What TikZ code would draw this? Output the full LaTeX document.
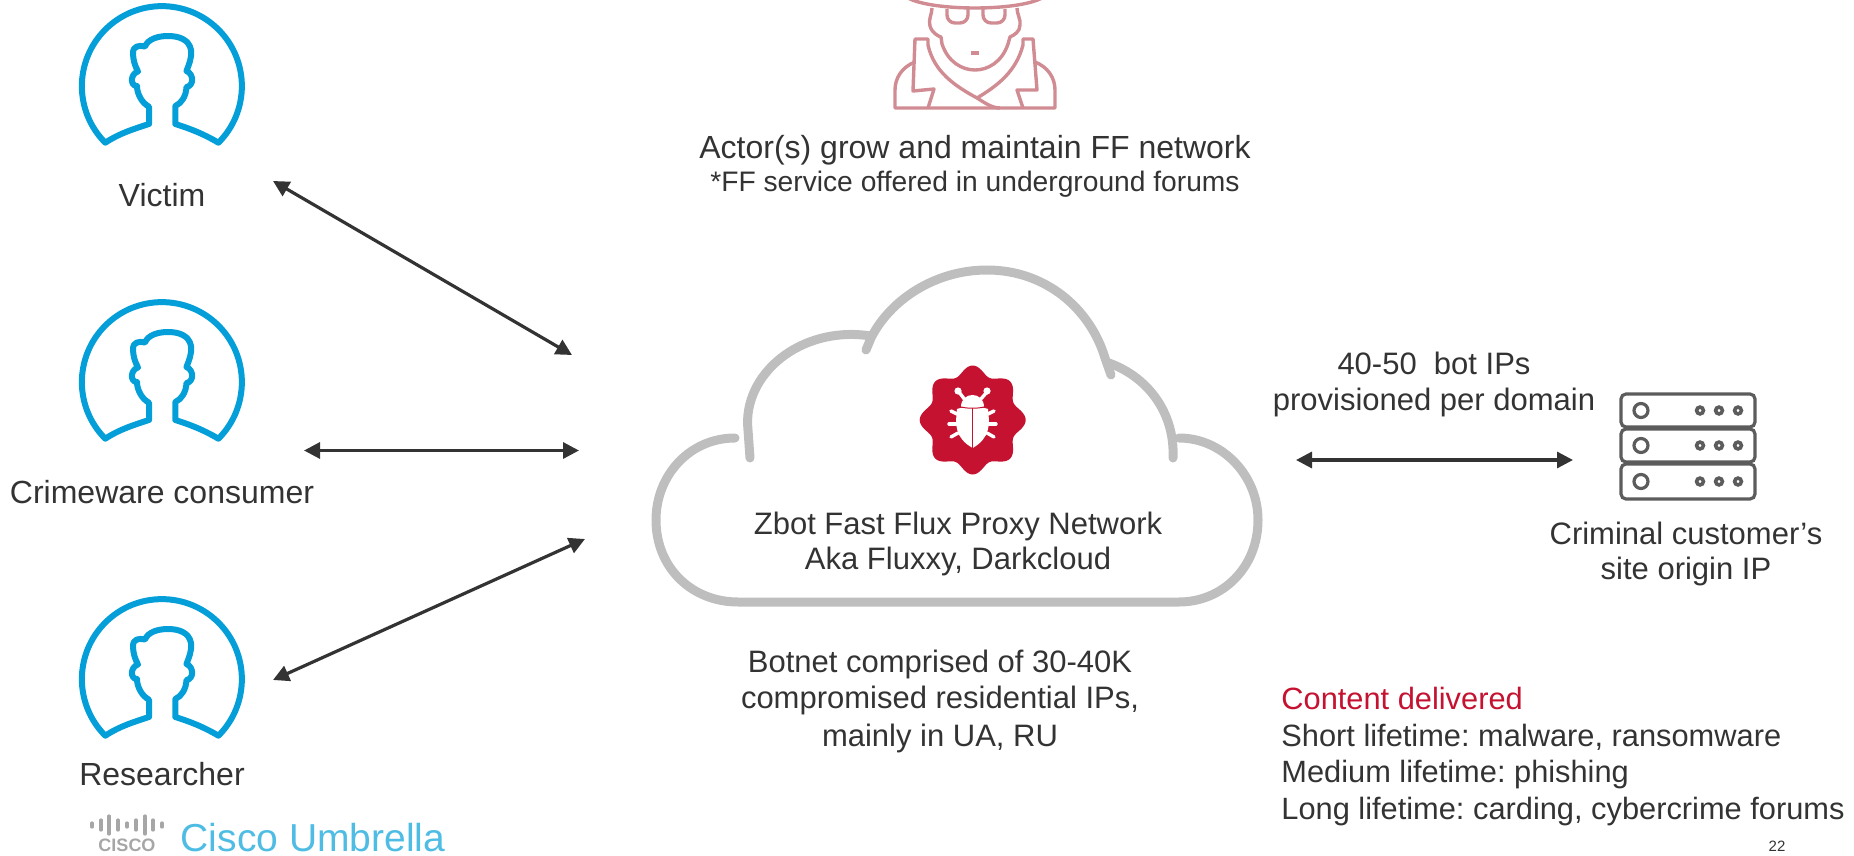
\documentclass[tikz,border=0pt]{standalone}
\usepackage{fontspec}
\setmainfont{Liberation Sans}
\frenchspacing
\usetikzlibrary{arrows.meta}
\definecolor{textgrey}{HTML}{333333}
\definecolor{personblue}{HTML}{049FD9}
\definecolor{cloudgrey}{HTML}{BEBEBE}
\definecolor{bugred}{HTML}{C41230}
\definecolor{actorpink}{HTML}{D08C92}
\definecolor{servergrey}{HTML}{5C5C5C}
\tikzset{
	label/.style={text=textgrey, font=\fontsize{15.5}{18}\selectfont, inner sep=0pt},
	big label/.style={label, font=\fontsize{16}{18}\selectfont},
	small label/.style={label, font=\fontsize{14.1}{16}\selectfont},
	content label/.style={label, anchor=west, font=\fontsize{15.4}{18}\selectfont},
	link/.style={{Triangle[length=8pt,width=8pt]}-{Triangle[length=8pt,width=8pt]}, line width=1.6pt, draw=textgrey},
	person line/.style={line width=3pt, draw=personblue, line join=round, line cap=round},
	cloud line/.style={line width=4.5pt, draw=cloudgrey, line cap=round},
	actor line/.style={line width=1.7pt, draw=actorpink, line join=round},
	server line/.style={line width=1.6pt, draw=servergrey},
	server dot/.style={line width=1.8pt, draw=servergrey},
	bug leg/.style={line width=1.7pt, draw=white, line cap=round},
	logo bar/.style={line width=1.6pt, draw=black!35, line cap=round}
}
\def\personicon(#1,#2){\draw[person line, shift={(#1,#2)}] (-56.7,56.7) arc (135:405:80)
	.. controls (40,47) and (26,42) .. (13.3,38) -- (13.3,20)
	.. controls (20,17) and (24,10) .. (24.5,1) .. controls (32,0) and (32,-12) .. (24.5,-15)
	.. controls (27,-22) and (30,-28) .. (29,-36) .. controls (27,-47) and (16,-50) .. (6,-50)
	.. controls (-4,-50) and (-14,-47) .. (-17,-39.5) .. controls (-23,-41) and (-29,-40) .. (-29,-33)
	.. controls (-29,-26) and (-27,-20) .. (-24,-14.5) .. controls (-32,-12) and (-32,0) .. (-25,0)
	.. controls (-25,8) and (-20,17) .. (-13,20.7) -- (-13,38)
	.. controls (-28,43) and (-42,47) .. cycle;}
\def\serverrow(#1,#2){\draw[server line, rounded corners=2.5pt] (1621,#1) rectangle (1755,#2);
	\draw[server line] (1641,{(#1+#2)/2}) circle (7);
	\draw[server dot] (1700,{(#1+#2)/2}) circle (3.4);
	\draw[server dot] (1719,{(#1+#2)/2}) circle (3.4);
	\draw[server dot] (1738,{(#1+#2)/2}) circle (3.4);}

\begin{document}
\begin{tikzpicture}[x=0.5pt,y=-0.5pt]
	%%%%% FRAME %%%%%
	\clip (0,0) rectangle (1854,856);

	%%%%% PEOPLE %%%%%
	\personicon(162,86);
	\personicon(162,382);
	\personicon(162,679);
	\node[big label] (victim) at (162,195) {Victim};
	\node[big label] (consumer) at (162,492) {Crimeware consumer};
	\node[big label] (researcher) at (162,774) {Researcher};

	%%%%% ACTOR %%%%%
	\draw[actor line] (905,-4) .. controls (925,12) and (1025,12) .. (1045,-4);
	\draw[actor line] (932,8) .. controls (932,14) and (928,20) .. (930,26) .. controls (932,33) and (938,36) .. (941,37) -- (942,44)
		.. controls (948,62) and (962,70) .. (975,70) .. controls (988,70) and (1002,62) .. (1008,44) -- (1010,37)
		.. controls (1014,35) and (1020,32) .. (1020,25) .. controls (1021,20) and (1017,14) .. (1017,8);
	\draw[actor line, rounded corners=4pt] (947,9) -- (947,23) -- (968,23) -- (968,9);
	\draw[actor line, rounded corners=4pt] (983,9) -- (983,23) -- (1005,23) -- (1005,9);
	\draw[actor line] (971,53) -- (979,53);
	\draw[actor line] (928,108) -- (934,89) -- (913,91) -- (915,39) -- (928,39) -- (928,45)
		.. controls (934,72) and (955,86) .. (977,98) .. controls (985,103) and (992,108) .. (1000,108);
	\draw[actor line] (1023,108) -- (1017,90) -- (1037,90) -- (1033,39) -- (1023,39) -- (1023,45)
		.. controls (1016,72) and (997,86) .. (977,98);
	\draw[actor line] (915,62) .. controls (902,67) and (895,78) .. (895,90) -- (895,108) -- (1055,108) -- (1055,90) .. controls (1055,78) and (1048,67) .. (1035,62);
	\node[big label] (grow) at (975,150) {Actor(s) grow and maintain FF network};
	\node[small label] (forums) at (975,184) {*FF service offered in underground forums};

	%%%%% CLOUD %%%%%
	\draw[cloud line] (735,438) .. controls (690,438) and (656,475) .. (656,520)
		.. controls (656,568) and (692,602) .. (738,602) -- (1179,602)
		.. controls (1222,602) and (1258,568) .. (1258,520)
		.. controls (1258,475) and (1222,438) .. (1179,438);
	\draw[cloud line] (1173,458) .. controls (1175,415) and (1150,378) .. (1109,363);
	\draw[cloud line] (1111,375) -- (1105,358)
		.. controls (1090,308) and (1045,270) .. (987,270)
		.. controls (935,270) and (890,300) .. (871,338) -- (866,350);
	\draw[cloud line] (871,336) .. controls (800,325) and (742,375) .. (748,430) -- (750,458);
	\node[label] (zbot) at (958,526) {Zbot Fast Flux Proxy Network};
	\node[label] (aka) at (958,561) {Aka Fluxxy, Darkcloud};

	%%%%% BUG %%%%%
	\fill[bugred] plot[domain=0:360,samples=145,smooth cycle] ({972.7+(48.5+4.5*cos(8*\x))*cos(\x)},{420+(50+4.5*cos(8*\x))*sin(\x)});
	\fill[white] (957,409) .. controls (965,406) and (980,406) .. (988,409) .. controls (990,425) and (990,438) .. (972.7,448) .. controls (955,438) and (955,425) .. (957,409) -- cycle;
	\fill[white] (961,407) .. controls (961,391) and (984,391) .. (984,407) -- cycle;
	\draw[bugred, line width=0.7pt] (972.7,408) -- (972.7,448);
	\draw[bugred, line width=0.5pt] (958,406) .. controls (965,409) and (980,409) .. (987,406);
	\draw[bug leg] (965,400) -- (959,392);
	\draw[bug leg] (980,400) -- (987,392);
	\fill[white] (958,391) circle (3.6);
	\fill[white] (987,391) circle (3.6);
	\draw[bug leg] (951,411) -- (957,414);
	\draw[bug leg] (949,424) -- (956,424);
	\draw[bug leg] (951,437) -- (958,433);
	\draw[bug leg] (994,411) -- (988,414);
	\draw[bug leg] (996,424) -- (989,424);
	\draw[bug leg] (994,437) -- (987,433);

	%%%%% BOTNET TEXT %%%%%
	\node[label] (botnet) at (940,664) {Botnet comprised of 30-40K};
	\node[label] (residential) at (940,700) {compromised residential IPs,};
	\node[label] (mainly) at (940,738) {mainly in UA, RU};

	%%%%% SERVER %%%%%
	\serverrow(394,427)
	\serverrow(429,462)
	\serverrow(464,499)
	\node[label] (provision) at (1434,363) {40-50\ \ bot IPs};
	\node[label] (perdomain) at (1434,402) {provisioned per domain};
	\node[label] (criminal) at (1686,533) {Criminal customer’s};
	\node[label] (origin) at (1686,571) {site origin IP};

	%%%%% CONTENT %%%%%
	\node[content label, text=bugred] (content) at (1281,698) {Content delivered};
	\node[content label] (short) at (1281,737) {Short lifetime: malware, ransomware};
	\node[content label] (medium) at (1281,775) {Medium lifetime: phishing};
	\node[content label] (long) at (1281,812) {Long lifetime: carding, cybercrime forums};
	\node[font=\fontsize{7.5}{9}\selectfont, text=textgrey, inner sep=0pt] (page) at (1777,846) {22};

	%%%%% LOGO %%%%%
	\draw[logo bar] (92,823) -- (92,827);
	\draw[logo bar] (101,820) -- (101,830);
	\draw[logo bar] (109,816) -- (109,834);
	\draw[logo bar] (118,820) -- (118,830);
	\draw[logo bar] (127,823) -- (127,827);
	\draw[logo bar] (136,820) -- (136,830);
	\draw[logo bar] (145,816) -- (145,834);
	\draw[logo bar] (153,820) -- (153,830);
	\draw[logo bar] (162,823) -- (162,827);
	\node[font=\fontsize{9}{10}\selectfont\bfseries, text=black!35, inner sep=0pt] (cisco) at (127,845) {CISCO};
	\node[font=\fontsize{19.5}{22}\selectfont, text=personblue!70, inner sep=0pt] (umbrella) at (313,838) {Cisco Umbrella};

	%%%%% ARROWS %%%%%
	\coordinate (victim end) at (273,181);
	\coordinate (victim hub) at (572,355);
	\coordinate (consumer end) at (304,450.5);
	\coordinate (consumer hub) at (579,450.5);
	\coordinate (researcher end) at (273,680);
	\coordinate (researcher hub) at (585,539);
	\coordinate (cloud end) at (1296,460);
	\coordinate (server end) at (1573,460);
	\draw[link] (victim end) -- (victim hub);
	\draw[link] (consumer end) -- (consumer hub);
	\draw[link] (researcher end) -- (researcher hub);
	\draw[link] (cloud end) -- (server end);
\end{tikzpicture}
\end{document}
